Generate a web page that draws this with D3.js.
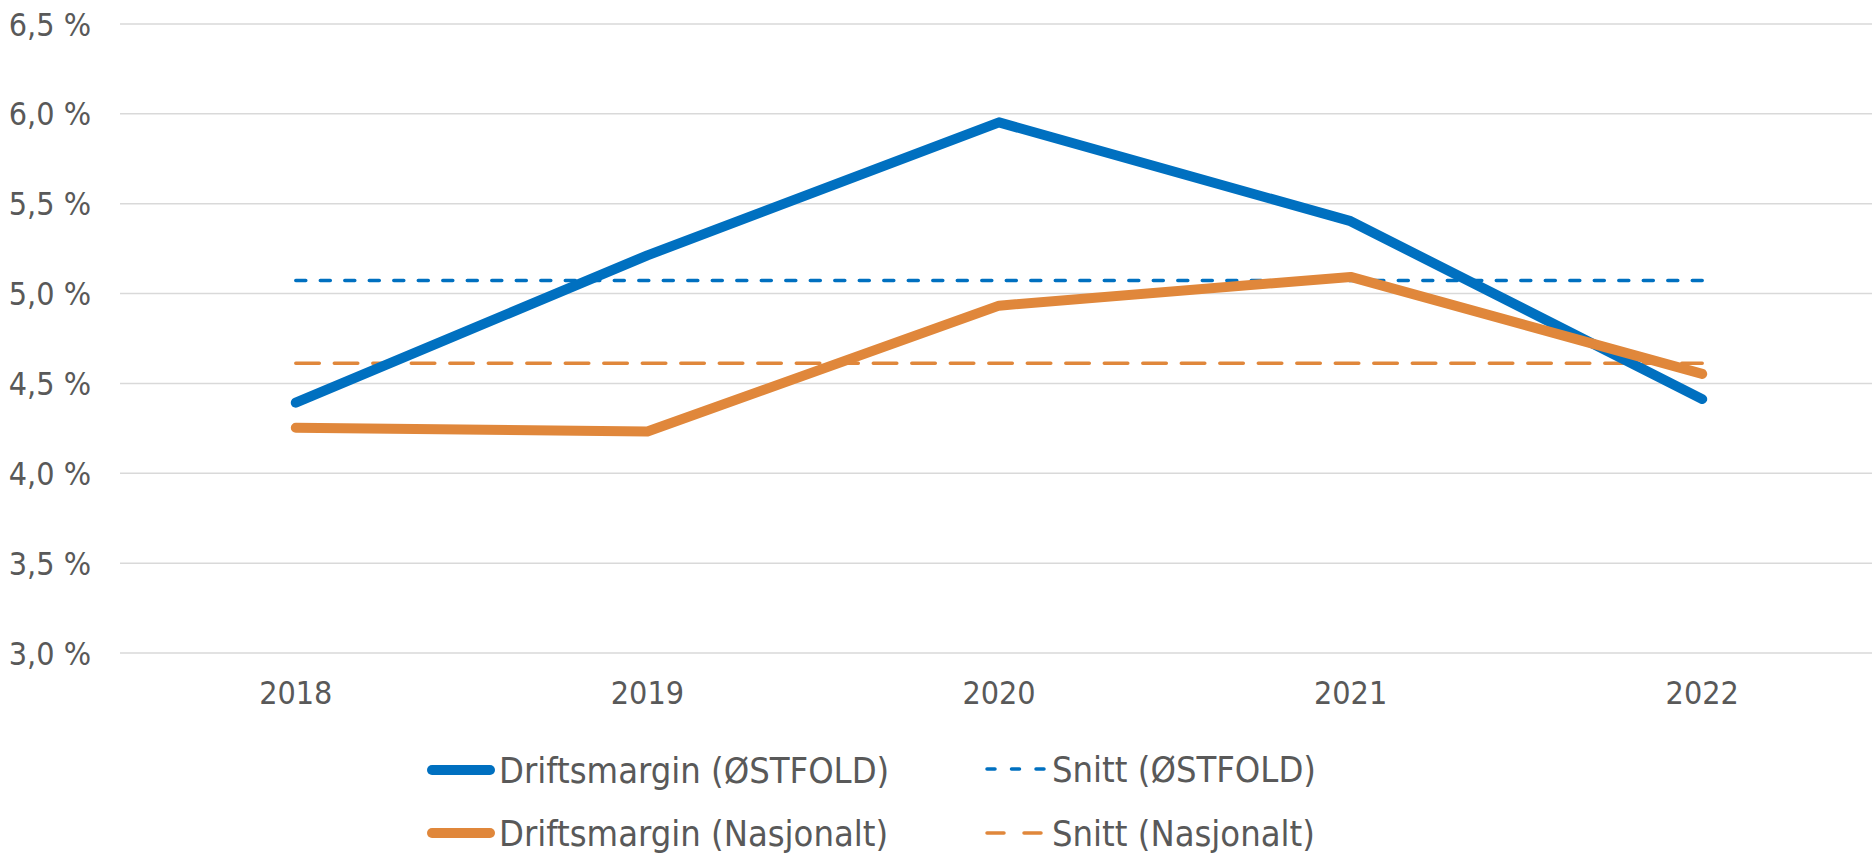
<!DOCTYPE html>
<html>
<head>
<meta charset="utf-8">
<script src="https://cdn.jsdelivr.net/npm/d3@7/dist/d3.min.js"></script>
<style>
  html, body { margin: 0; padding: 0; background: #fff; }
  svg { display: block; }
  text { font-family: "DejaVu Sans Condensed", "DejaVu Sans", sans-serif; fill: #595959; }
</style>
</head>
<body>
<svg id="chart" width="1872" height="854"></svg>
<script>
// ---- data ----
const years = ["2018", "2019", "2020", "2021", "2022"];
const driftsmarginOstfold = [4.39, 5.21, 5.95, 5.40, 4.41];
const driftsmarginNasjonalt = [4.25, 4.23, 4.93, 5.09, 4.55];
const snittOstfold = 5.07;
const snittNasjonalt = 4.61;
const yTicks = [3.0, 3.5, 4.0, 4.5, 5.0, 5.5, 6.0, 6.5];
const seriesNames = ["Driftsmargin (ØSTFOLD)", "Snitt (ØSTFOLD)", "Driftsmargin (Nasjonalt)", "Snitt (Nasjonalt)"];

const BLUE = "#0070C0", ORANGE = "#E0873B", GRID = "#D9D9D9";

const svg = d3.select("#chart");
const x = d3.scaleBand().domain(years).range([120, 1878]);
const y = d3.scaleLinear().domain([3.0, 6.5]).range([652.5, 23.5]);
const cx = d => x(d) + x.bandwidth() / 2;
const fmt = v => v.toFixed(1).replace(".", ",") + " %";

// gridlines + y labels
const yAxis = d3.axisLeft(y).tickValues(yTicks).tickSize(-1752).tickFormat(fmt).tickPadding(29);
const gy = svg.append("g").attr("transform", "translate(120,0)").call(yAxis);
gy.select(".domain").remove();
gy.selectAll(".tick line").attr("stroke", GRID).attr("stroke-width", 1.5);
gy.selectAll(".tick text").attr("font-size", 32).attr("fill", "#595959")
  .attr("font-family", "DejaVu Sans Condensed, DejaVu Sans, sans-serif").attr("dy", "0.36em");

// x labels
const xAxis = d3.axisBottom(x).tickSize(0).tickPadding(0);
const gx = svg.append("g").attr("transform", "translate(0,652.5)").call(xAxis);
gx.select(".domain").remove();
gx.selectAll(".tick text").attr("font-size", 32).attr("fill", "#595959")
  .attr("font-family", "DejaVu Sans Condensed, DejaVu Sans, sans-serif")
  .attr("dy", null).attr("y", 51.5);

// average lines
const avgLine = d3.line().x(d => cx(d[0])).y(d => y(d[1]));
svg.append("path")
  .attr("d", avgLine(years.map(yr => [yr, snittOstfold])))
  .attr("fill", "none").attr("stroke", BLUE).attr("stroke-width", 3.5)
  .attr("stroke-linecap", "round").attr("stroke-dasharray", "10,14.5");
svg.append("path")
  .attr("d", avgLine(years.map(yr => [yr, snittNasjonalt])))
  .attr("fill", "none").attr("stroke", ORANGE).attr("stroke-width", 3.5)
  .attr("stroke-linecap", "round").attr("stroke-dasharray", "23.5,15");

// main series
const line = d3.line().x((d, i) => cx(years[i])).y(d => y(d));
svg.append("path").attr("d", line(driftsmarginOstfold))
  .attr("fill", "none").attr("stroke", BLUE).attr("stroke-width", 10)
  .attr("stroke-linecap", "round").attr("stroke-linejoin", "round");
svg.append("path").attr("d", line(driftsmarginNasjonalt))
  .attr("fill", "none").attr("stroke", ORANGE).attr("stroke-width", 10)
  .attr("stroke-linecap", "round").attr("stroke-linejoin", "round");

// legend
const legend = [
  { name: seriesNames[0], color: BLUE, w: 10, dash: null, lx: 432, ly: 770 },
  { name: seriesNames[1], color: BLUE, w: 3.5, dash: "8,16.5", lx: 987, ly: 769 },
  { name: seriesNames[2], color: ORANGE, w: 10, dash: null, lx: 432, ly: 833 },
  { name: seriesNames[3], color: ORANGE, w: 3.5, dash: "17,20", lx: 987, ly: 833 }
];
const lg = svg.append("g");
legend.forEach(e => {
  const len = e.dash ? 59 : 58;
  const l = lg.append("line").attr("x1", e.lx).attr("x2", e.lx + len)
    .attr("y1", e.ly).attr("y2", e.ly)
    .attr("stroke", e.color).attr("stroke-width", e.w).attr("stroke-linecap", "round");
  if (e.dash) l.attr("stroke-dasharray", e.dash);
  lg.append("text").attr("x", e.dash ? 1052 : 499).attr("y", e.ly + 13)
    .attr("font-size", 36).text(e.name);
});
</script>
</body>
</html>
